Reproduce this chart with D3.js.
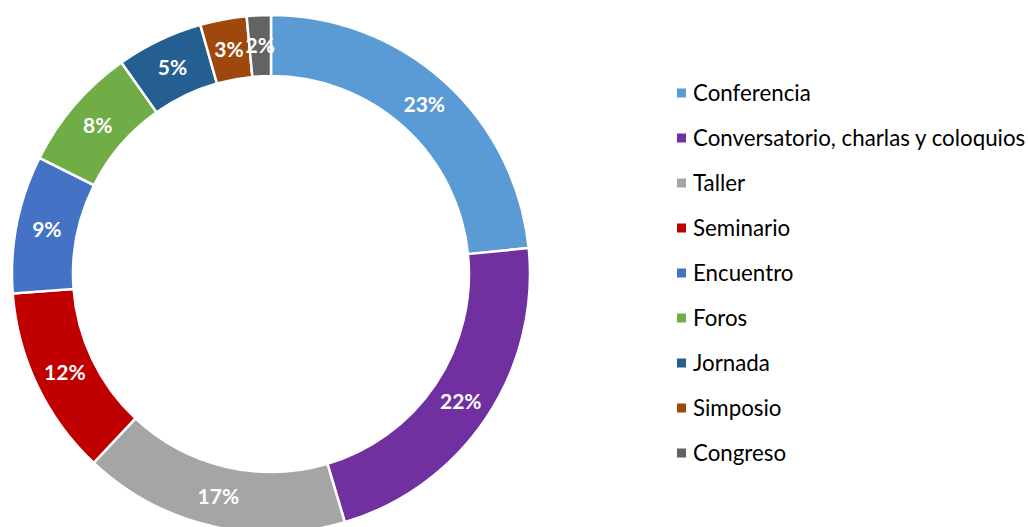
<!DOCTYPE html>
<html>
<head>
<meta charset="utf-8">
<script src="https://cdn.jsdelivr.net/npm/d3@7"></script>
<style>
  body { margin: 0; background: #fff; }
</style>
</head>
<body>
<script>
// slices, clockwise from 12 o'clock
const categories = [
  "Conferencia",
  "Conversatorio, charlas y coloquios",
  "Taller",
  "Seminario",
  "Encuentro",
  "Foros",
  "Jornada",
  "Simposio",
  "Congreso",
];
const values = [23.4, 22.0, 16.6, 11.8, 8.6, 7.8, 5.4, 2.9, 1.5]; // percent
const colors = [
  "#5B9BD5",
  "#7030A0",
  "#A5A5A5",
  "#C00000",
  "#4472C4",
  "#70AD47",
  "#255E91",
  "#9E480E",
  "#636363",
];

const width = 1028;
const height = 527;
const cx = 271;
const cy = 274;
const outerR = 259;
const innerR = 198;

const data = categories.map((c, i) => ({ name: c, value: values[i], color: colors[i] }));
const total = d3.sum(values);

const svg = d3
  .select("body")
  .append("svg")
  .attr("width", width)
  .attr("height", height);

const pie = d3.pie().sort(null).value((d) => d.value);
const arc = d3.arc().innerRadius(innerR).outerRadius(outerR);
const labelArc = d3.arc().innerRadius((innerR + outerR) / 2).outerRadius((innerR + outerR) / 2);

const ring = svg.append("g").attr("transform", `translate(${cx},${cy})`);

const arcs = pie(data);

ring
  .selectAll("path")
  .data(arcs)
  .join("path")
  .attr("d", arc)
  .attr("fill", (d) => d.data.color)
  .attr("stroke", "#fff")
  .attr("stroke-width", 2.5);

ring
  .selectAll("text")
  .data(arcs)
  .join("text")
  .attr("transform", (d) => `translate(${labelArc.centroid(d)})`)
  .attr("text-anchor", "middle")
  .attr("dy", "0.36em")
  .attr("fill", "#fff")
  .attr("font-family", "Lato, 'Open Sans', sans-serif")
  .attr("font-weight", "bold")
  .attr("font-size", "21px")
  .text((d) => Math.round((d.value / total) * 100) + "%");

// legend
const legendY = d3.scalePoint().domain(categories).range([93, 453]);

const legend = svg
  .append("g")
  .selectAll("g")
  .data(data)
  .join("g")
  .attr("transform", (d) => `translate(677,${legendY(d.name)})`);

legend
  .append("rect")
  .attr("x", 0)
  .attr("y", -4.5)
  .attr("width", 9)
  .attr("height", 9)
  .attr("fill", (d) => d.color);

legend
  .append("text")
  .attr("x", 16)
  .attr("dy", "0.36em")
  .attr("fill", "#000")
  .attr("font-family", "Lato, 'Open Sans', sans-serif")
  .attr("font-size", "22.3px")
  .text((d) => d.name);
</script>
</body>
</html>
